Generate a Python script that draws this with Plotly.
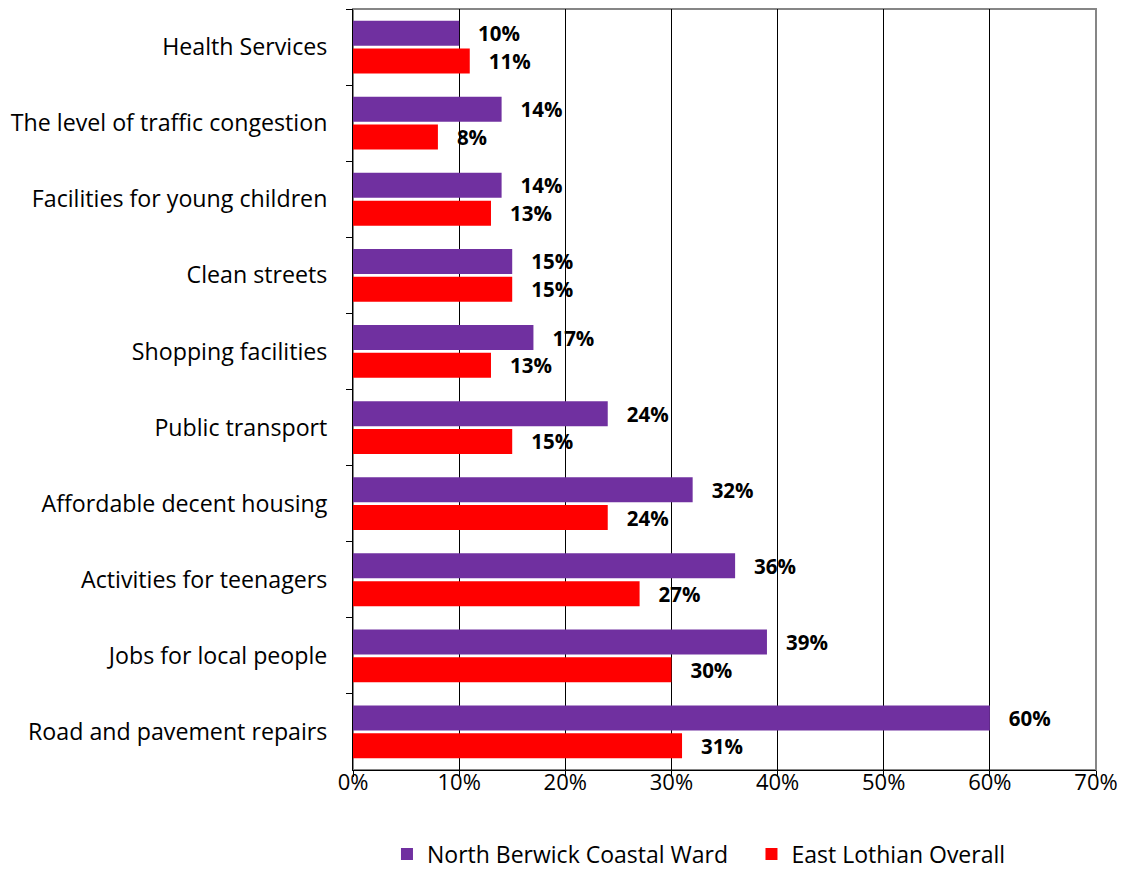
import plotly.graph_objects as go

categories = ["Health Services", "The level of traffic congestion", "Facilities for young children",
              "Clean streets", "Shopping facilities", "Public transport", "Affordable decent housing",
              "Activities for teenagers", "Jobs for local people", "Road and pavement repairs"]
north_berwick = [0.10, 0.14, 0.14, 0.15, 0.17, 0.24, 0.32, 0.36, 0.39, 0.60]
east_lothian = [0.11, 0.08, 0.13, 0.15, 0.13, 0.15, 0.24, 0.27, 0.30, 0.31]
series_names = ["North Berwick Coastal Ward", "East Lothian Overall"]
tick_vals = [0, 0.1, 0.2, 0.3, 0.4, 0.5, 0.6, 0.7]
tick_text = ["0%", "10%", "20%", "30%", "40%", "50%", "60%", "70%"]

FONT = "Open Sans"
fig = go.Figure()
for name, vals, col, lg in [(series_names[0], north_berwick, "#7030A0", "legend"),
                            (series_names[1], east_lothian, "#FF0000", "legend2")]:
    fig.add_trace(go.Bar(
        y=categories, x=vals, orientation="h", name=name, legend=lg,
        marker=dict(color=col, line=dict(width=0)),
        text=[f"\u00a0\u00a0\u00a0{round(v*100)}%" for v in vals],
        textposition="outside", cliponaxis=False, constraintext="none",
        textfont=dict(family=FONT, size=20.5, color="black", weight="bold"),
    ))

legend_common = dict(orientation="h", xref="container", xanchor="left",
                     y=-0.1104, yanchor="middle", font=dict(family=FONT, size=23),
                     itemwidth=30, bgcolor="rgba(0,0,0,0)")

fig.update_layout(
    width=1113, height=857,
    margin=dict(l=345, r=25, t=1, b=95, autoexpand=False),
    barmode="group", bargap=0.27, bargroupgap=0.1,
    plot_bgcolor="white", paper_bgcolor="white",
    font=dict(family=FONT, size=22, color="black"),
    showlegend=True,
    legend=dict(x=0.3405, **legend_common),
    legend2=dict(x=0.668, **legend_common),
    xaxis=dict(range=[0, 0.7], tickvals=tick_vals, ticktext=tick_text,
               showgrid=True, gridcolor="#000000", gridwidth=1,
               showline=True, linecolor="#000000", linewidth=1,
               ticks="outside", ticklen=6, tickcolor="#000000", automargin=False,
               ticklabelstandoff=-13,
               tickfont=dict(family=FONT, size=22), zeroline=False, fixedrange=True),
    yaxis=dict(autorange="reversed", showline=True, linecolor="#000000", linewidth=1,
               ticks="outside", ticklen=6, tickson="boundaries", tickcolor="#000000",
               automargin=False,
               ticklabelstandoff=20, tickfont=dict(family=FONT, size=23.2), showgrid=False),
    shapes=[dict(type="rect", xref="paper", yref="paper", x0=0, x1=1, y0=0, y1=1,
                 line=dict(color="#868686", width=2), layer="below")],
)
fig.write_html("out.html")
